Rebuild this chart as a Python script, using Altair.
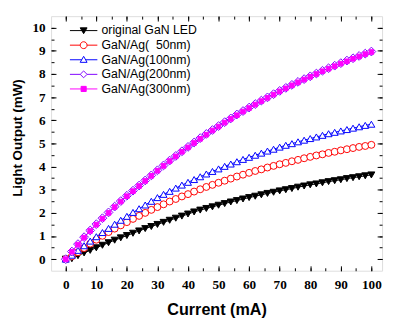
import altair as alt
import pandas as pd

current = [0, 2, 4, 6, 8, 10, 12, 14, 16, 18, 20, 22, 24, 26, 28, 30, 32, 34, 36, 38, 40,
           42, 44, 46, 48, 50, 52, 54, 56, 58, 60, 62, 64, 66, 68, 70, 72, 74, 76, 78, 80,
           82, 84, 86, 88, 90, 92, 94, 96, 98, 100]

original = [0, 0.02, 0.15, 0.27, 0.38, 0.49, 0.60, 0.71, 0.82, 0.92, 1.02, 1.12, 1.22, 1.32, 1.41,
            1.50, 1.59, 1.68, 1.77, 1.86, 1.95, 2.04, 2.12, 2.19, 2.26, 2.33, 2.40, 2.47, 2.53,
            2.60, 2.66, 2.72, 2.78, 2.84, 2.89, 2.95, 3.00, 3.05, 3.11, 3.16, 3.21, 3.25, 3.30,
            3.35, 3.39, 3.43, 3.48, 3.52, 3.56, 3.60, 3.64]
ag50 = [0, 0.12, 0.30, 0.48, 0.67, 0.84, 1.01, 1.17, 1.32, 1.46, 1.60, 1.74, 1.87, 2.00, 2.13,
        2.25, 2.37, 2.49, 2.60, 2.71, 2.81, 2.92, 3.02, 3.12, 3.21, 3.30, 3.39, 3.48, 3.57, 3.65,
        3.73, 3.81, 3.88, 3.96, 4.03, 4.10, 4.16, 4.23, 4.29, 4.36, 4.42, 4.48, 4.53, 4.59, 4.64,
        4.70, 4.75, 4.80, 4.85, 4.89, 4.94]
ag100 = [0, 0.17, 0.38, 0.58, 0.78, 0.97, 1.15, 1.33, 1.51, 1.68, 1.85, 2.02, 2.18, 2.34, 2.50,
         2.66, 2.80, 2.93, 3.07, 3.20, 3.32, 3.44, 3.56, 3.68, 3.79, 3.90, 4.01, 4.11, 4.21, 4.31,
         4.40, 4.49, 4.58, 4.67, 4.75, 4.84, 4.92, 4.99, 5.07, 5.14, 5.21, 5.28, 5.35, 5.42, 5.48,
         5.54, 5.60, 5.66, 5.72, 5.78, 5.83]
ag200 = [0, 0.33, 0.65, 0.95, 1.24, 1.51, 1.77, 2.02, 2.27, 2.51, 2.74, 2.96, 3.18, 3.40, 3.62,
         3.84, 4.05, 4.26, 4.46, 4.66, 4.85, 5.04, 5.23, 5.41, 5.58, 5.75, 5.92, 6.08, 6.25, 6.40,
         6.55, 6.70, 6.85, 6.99, 7.13, 7.27, 7.40, 7.53, 7.66, 7.78, 7.90, 8.02, 8.14, 8.25, 8.36,
         8.47, 8.58, 8.68, 8.78, 8.88, 8.97]
ag300 = [0, 0.32, 0.63, 0.93, 1.22, 1.49, 1.75, 2.00, 2.25, 2.49, 2.72, 2.94, 3.16, 3.38, 3.60,
         3.82, 4.03, 4.24, 4.44, 4.64, 4.83, 5.02, 5.20, 5.38, 5.56, 5.73, 5.90, 6.06, 6.22, 6.38,
         6.53, 6.68, 6.83, 6.97, 7.11, 7.25, 7.38, 7.51, 7.64, 7.76, 7.88, 8.00, 8.12, 8.23, 8.34,
         8.45, 8.55, 8.66, 8.76, 8.86, 8.95]

series_names = ["original GaN LED", "GaN/Ag(\u00a0\u00a050nm)", "GaN/Ag(100nm)",
                "GaN/Ag(200nm)", "GaN/Ag(300nm)"]

x_major = [0, 10, 20, 30, 40, 50, 60, 70, 80, 90, 100]
x_minor = [0, 5, 10, 15, 20, 25, 30, 35, 40, 45, 50, 55, 60, 65, 70, 75, 80, 85, 90, 95, 100]
y_major = [0, 1, 2, 3, 4, 5, 6, 7, 8, 9, 10]
y_minor = [0, 0.5, 1, 1.5, 2, 2.5, 3, 3.5, 4, 4.5, 5, 5.5, 6, 6.5, 7, 7.5, 8, 8.5, 9, 9.5, 10]

colors = ["#000000", "#FF0000", "#0000FF", "#8000FF", "#FF00FF"]
fills = ["#000000", "#FFFFFF", "#FFFFFF", "#FFFFFF", "#FF00FF"]
shapes = ["triangle-down", "circle", "triangle-up", "diamond", "square"]
legend_paths = [
    "M-4,0H4M-1,-0.8L1,-0.8L0,0.9Z",
    "M-4,0H-1M1,0H4M-1,0A1,1,0,1,0,1,0A1,1,0,1,0,-1,0Z",
    "M-4,0H-0.57M0.57,0H4M0,-1L1,0.75L-1,0.75Z",
    "M-4,0H-1M1,0H4M0,-1L1,0L0,1L-1,0Z",
    "M-4,0H4M-0.75,-0.75H0.75V0.75H-0.75Z",
]

rows = []
for name, vals in zip(series_names, [original, ag50, ag100, ag200, ag300]):
    for c, v in zip(current, vals):
        rows.append({"current": c, "power": v, "series": name})
df = pd.DataFrame(rows)

xscale = alt.Scale(domain=[-4.8, 103.5], nice=False, zero=False)
yscale = alt.Scale(domain=[-0.5, 10.5], nice=False, zero=False)

LABEL = dict(labelFont="Liberation Serif", labelFontWeight="bold", labelFontSize=13.5,
             labelColor="black")


def tick_axis(orient, vals, size, **kw):
    base = dict(orient=orient, values=vals, offset=-size, tickSize=size, domain=False,
                grid=False, tickColor="black", tickWidth=1)
    if "title" not in kw:
        base["title"] = None
        base["labels"] = False
    base.update(kw)
    return alt.Axis(**base)


color_enc = alt.Color("series:N", scale=alt.Scale(domain=series_names, range=colors), legend=None)
fill_enc = alt.Fill("series:N", scale=alt.Scale(domain=series_names, range=fills), legend=None)
shape_enc = alt.Shape("series:N", scale=alt.Scale(domain=series_names, range=shapes), legend=None)

lines = alt.Chart(df).mark_line(strokeWidth=1).encode(
    x=alt.X("current:Q", scale=xscale,
            axis=tick_axis("bottom", x_major, 5, title="Current (mA)", labelPadding=7,
                           labelFlush=False, titlePadding=11, titleFont="Liberation Sans",
                           titleFontWeight="bold", titleFontSize=16.5, titleColor="black",
                           **LABEL)),
    y=alt.Y("power:Q", scale=yscale,
            axis=tick_axis("left", y_major, 5, title="Light Output (mW)", labelPadding=6,
                           titlePadding=8, titleFont="Liberation Sans", titleFontWeight="bold",
                           titleFontSize=13.7, titleColor="black", titleY=124, **LABEL)),
    color=color_enc,
    detail="series:N",
)

pts_a = alt.Chart(df).transform_filter(
    alt.datum.series != series_names[4]
).mark_point(filled=False, strokeWidth=1, opacity=1).encode(
    x=alt.X("current:Q", scale=xscale, axis=tick_axis("bottom", x_minor, 3)),
    y=alt.Y("power:Q", scale=yscale, axis=tick_axis("left", y_minor, 3)),
    color=color_enc, fill=fill_enc, shape=shape_enc,
    size=alt.condition(alt.datum.series == series_names[3], alt.value(80), alt.value(50)),
)

pts_b = alt.Chart(df).transform_filter(
    alt.datum.series == series_names[4]
).mark_point(filled=False, strokeWidth=1, opacity=1, size=22).encode(
    x=alt.X("current:Q", scale=xscale, axis=tick_axis("top", x_minor, 3)),
    y=alt.Y("power:Q", scale=yscale, axis=tick_axis("right", y_minor, 3)),
    color=color_enc, fill=fill_enc, shape=shape_enc,
)

leg = alt.Legend(title=None, orient="none", legendX=27, legendY=8.5, padding=0,
                 symbolOpacity=1, symbolSize=49, symbolStrokeWidth=1, labelOffset=12,
                 rowPadding=1.9, labelFont="Liberation Sans", labelFontSize=12.5,
                 labelColor="black")

legend_layer = alt.Chart(df).mark_point(filled=False, opacity=0).encode(
    x=alt.X("current:Q", scale=xscale, axis=tick_axis("top", x_major, 5)),
    y=alt.Y("power:Q", scale=yscale, axis=tick_axis("right", y_major, 5)),
    color=alt.Color("series:N", scale=alt.Scale(domain=series_names, range=colors), legend=leg),
    fill=alt.Fill("series:N", scale=alt.Scale(domain=series_names, range=fills), legend=leg),
    shape=alt.Shape("series:N", scale=alt.Scale(domain=series_names, range=legend_paths),
                    legend=leg),
)

chart = alt.layer(lines, pts_a, pts_b, legend_layer).resolve_scale(
    color="independent", fill="independent", shape="independent"
).resolve_axis(x="independent", y="independent").properties(
    width=338, height=260,
    padding={"left": 44, "top": 5, "right": 3, "bottom": 47},
    autosize=alt.AutoSizeParams(type="none"),
).configure_view(stroke="black", strokeWidth=1.3).configure(background="white")

chart.save("out.html", embed_options={"renderer": "svg", "actions": False})
